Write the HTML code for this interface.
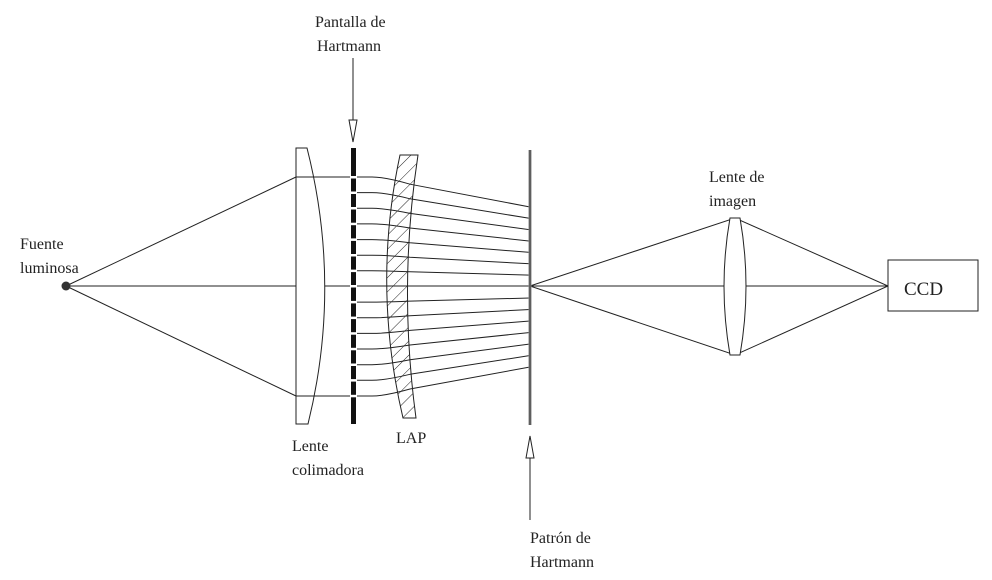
<!DOCTYPE html>
<html><head><meta charset="utf-8"><style>
html,body{margin:0;padding:0;background:#fff;}
svg{display:block;}
text{font-family:"Liberation Serif",serif;font-size:16px;fill:#222;}
</style></head><body>
<svg width="992" height="580" viewBox="0 0 992 580" xmlns="http://www.w3.org/2000/svg">
<defs>
<pattern id="h" patternUnits="userSpaceOnUse" width="10" height="10" patternTransform="rotate(45)">
<line x1="0" y1="0" x2="0" y2="10" stroke="#222" stroke-width="1"/>
</pattern>
</defs>
<g fill="none" stroke="#222" stroke-width="1">
<line x1="66" y1="286" x2="888" y2="286"/>
<line x1="66" y1="286" x2="296" y2="177"/>
<line x1="66" y1="286" x2="296" y2="396"/>
<path d="M296,148 L307,148 Q342,286 308,424 L296,424 Z" fill="#fff"/>
<path d="M296,177 L372,177 Q385,177 410,184.2 L530,207"/>
<path d="M355,192.6 L372,192.6 Q385,192.6 410,198.8 L530,218.4"/>
<path d="M355,208.3 L372,208.3 Q385,208.3 410,213.4 L530,229.7"/>
<path d="M355,223.9 L372,223.9 Q385,223.9 410,228 L530,241.1"/>
<path d="M355,239.6 L372,239.6 Q385,239.6 410,242.7 L530,252.4"/>
<path d="M355,255.2 L372,255.2 Q385,255.2 410,257.3 L530,263.8"/>
<path d="M355,270.8 L372,270.8 Q385,270.8 410,271.8 L530,275.1"/>
<path d="M355,302.1 L372,302.1 Q385,302.1 410,301.1 L530,298"/>
<path d="M355,317.8 L372,317.8 Q385,317.8 410,315.8 L530,309.5"/>
<path d="M355,333.4 L372,333.4 Q385,333.4 410,330.4 L530,321"/>
<path d="M355,349 L372,349 Q385,349 410,345 L530,332.5"/>
<path d="M355,364.7 L372,364.7 Q385,364.7 410,359.7 L530,344"/>
<path d="M355,380.3 L372,380.3 Q385,380.3 410,374.3 L530,355.5"/>
<path d="M296,396 L372,396 Q385,396 410,389 L530,367"/>
<path d="M400,155 L418,155 Q398,286 416,418 L403,418 Q372,286 400,155 Z" fill="url(#h)"/>
<path d="M530,286 L735,218 L888,286 L735,355 Z"/>
<path d="M730,218 L740,218 Q752,286 740,355 L730,355 Q718,286 730,218 Z" fill="#fff"/>
<rect x="888" y="260" width="90" height="51" fill="#fff"/>
<line x1="353" y1="58" x2="353" y2="120"/>
<path d="M349,120 L357,120 L353,142 Z" fill="#fff"/>
<line x1="530" y1="520" x2="530" y2="458"/>
<path d="M526,458 L534,458 L530,436 Z" fill="#fff"/>
</g>
<line x1="353.5" y1="148" x2="353.5" y2="424" stroke="#111" stroke-width="5"/>
<g fill="#fff">
<rect x="350" y="176" width="7" height="2.5"/><rect x="350" y="191.5" width="7" height="2.5"/>
<rect x="350" y="207" width="7" height="2.5"/><rect x="350" y="222.7" width="7" height="2.5"/>
<rect x="350" y="238.4" width="7" height="2.5"/><rect x="350" y="254" width="7" height="2.5"/>
<rect x="350" y="269.6" width="7" height="2.5"/><rect x="350" y="285" width="7" height="2.5"/>
<rect x="350" y="300.9" width="7" height="2.5"/><rect x="350" y="316.6" width="7" height="2.5"/>
<rect x="350" y="332.2" width="7" height="2.5"/><rect x="350" y="347.8" width="7" height="2.5"/>
<rect x="350" y="363.5" width="7" height="2.5"/><rect x="350" y="379.1" width="7" height="2.5"/>
<rect x="350" y="394.8" width="7" height="2.5"/>
</g>
<line x1="530" y1="150" x2="530" y2="425" stroke="#888" stroke-width="3"/>
<line x1="530" y1="150" x2="530" y2="425" stroke="#333" stroke-width="1"/>
<circle cx="66" cy="286" r="4.5" fill="#333"/>
<text x="315" y="27">Pantalla de</text>
<text x="317" y="51">Hartmann</text>
<text x="20" y="249">Fuente</text>
<text x="20" y="273">luminosa</text>
<text x="292" y="451">Lente</text>
<text x="292" y="475">colimadora</text>
<text x="396" y="443">LAP</text>
<text x="709" y="182">Lente de</text>
<text x="709" y="206">imagen</text>
<text x="904" y="295" style="font-size:19px">CCD</text>
<text x="530" y="543">Patrón de</text>
<text x="530" y="567">Hartmann</text>
</svg>
</body></html>
